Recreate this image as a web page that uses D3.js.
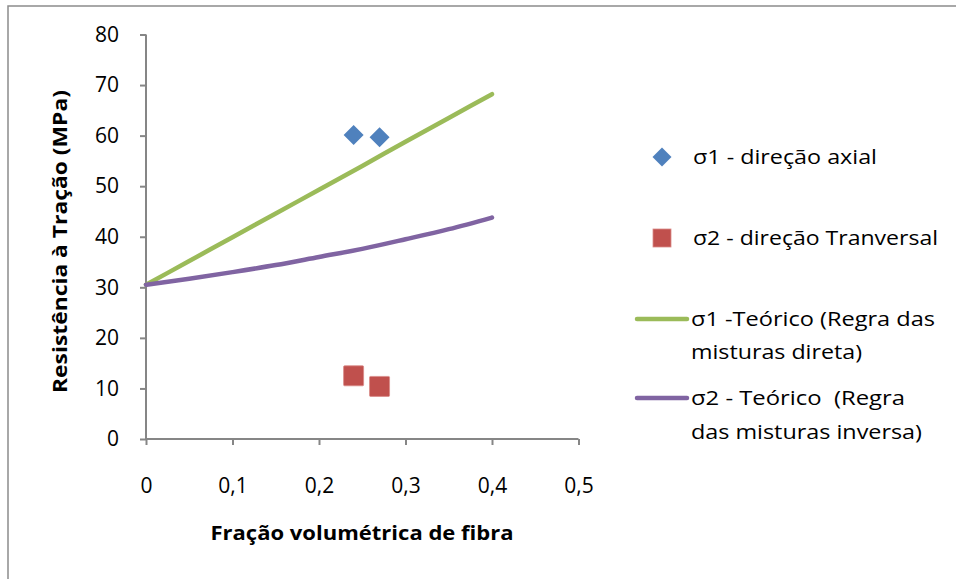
<!DOCTYPE html>
<html>
<head>
<meta charset="utf-8">
<script src="https://cdn.jsdelivr.net/npm/d3@7"></script>
<style>
  html, body { margin: 0; padding: 0; background: #fff; }
  svg { display: block; font-family: "Open Sans", Lato, sans-serif; }
</style>
</head>
<body>
<svg id="chart" width="956" height="579"></svg>
<script>
// ---- data ----
const xTicks = [0, 0.1, 0.2, 0.3, 0.4, 0.5];
const yTicks = [0, 10, 20, 30, 40, 50, 60, 70, 80];

const axialX = [0.24, 0.27];
const axialY = [60.1, 59.7];

const transvX = [0.24, 0.27];
const transvY = [12.5, 10.4];

const theoX = [0, 0.05, 0.1, 0.15, 0.2, 0.25, 0.3, 0.35, 0.4];
const directY = [30.5, 35.2, 39.9, 44.6, 49.3, 54.0, 58.8, 63.5, 68.2];
const inverseY = [30.5, 31.7, 33.0, 34.4, 36.0, 37.6, 39.5, 41.5, 43.8];

const seriesNames = [
  ["σ1 - direção axial"],
  ["σ2 - direção Tranversal"],
  ["σ1 -Teórico (Regra das", "misturas direta)"],
  ["σ2 - Teórico  (Regra", "das misturas inversa)"]
];
const colors = { axial: "#4F81BD", transv: "#C0504D", direct: "#9BBB59", inverse: "#8064A2" };

// ---- layout ----
const svg = d3.select("#chart");
const plot = { left: 146, right: 578.5, top: 34.5, bottom: 439 };
const axisColor = "#868686";

// frame
svg.append("rect")
  .attr("x", 8).attr("y", 6).attr("width", 1000).attr("height", 1000)
  .attr("fill", "none").attr("stroke", "#8c8c8c").attr("stroke-width", 1.5);

const x = d3.scaleLinear().domain([0, 0.5]).range([plot.left, plot.right]);
const y = d3.scaleLinear().domain([0, 80]).range([plot.bottom, plot.top]);

const fmt = d => d === 0 ? "0" : d3.format(".1f")(d).replace(".", ",");

// y axis
const yAxis = svg.append("g")
  .attr("transform", `translate(${plot.left},0)`)
  .call(d3.axisLeft(y).tickValues(yTicks).tickSize(6).tickPadding(21).tickFormat(d3.format("d")));
// x axis
const xAxis = svg.append("g")
  .attr("transform", `translate(0,${plot.bottom})`)
  .call(d3.axisBottom(x).tickValues(xTicks).tickSize(6).tickFormat(fmt));

[yAxis, xAxis].forEach(g => {
  g.select(".domain").attr("stroke", axisColor).attr("stroke-width", 2);
  g.selectAll(".tick line").attr("stroke", axisColor).attr("stroke-width", 2);
  g.selectAll(".tick text").attr("fill", "#000").style("font-size", "21px").style("font-family", "'Open Sans', sans-serif");
});
xAxis.selectAll(".tick text").attr("y", 46).attr("dy", "0.36em");
yAxis.select(".domain").attr("d", `M0,${plot.top}V${plot.bottom}`);
xAxis.select(".domain").attr("d", `M${plot.left},0H${plot.right}`);

// axis titles
svg.append("text")
  .attr("x", 362)
  .attr("y", 540)
  .attr("text-anchor", "middle")
  .attr("font-weight", "bold")
  .attr("font-size", 19)
  .attr("textLength", 303).attr("lengthAdjust", "spacingAndGlyphs")
  .text("Fração volumétrica de fibra");

svg.append("text")
  .attr("transform", "translate(67,241.5) rotate(-90)")
  .attr("text-anchor", "middle")
  .attr("font-weight", "bold")
  .attr("font-size", 19)
  .attr("textLength", 303).attr("lengthAdjust", "spacingAndGlyphs")
  .text("Resistência à Tração (MPa)");

// lines
const line = d3.line().x(d => x(d[0])).y(d => y(d[1])).curve(d3.curveMonotoneX);
svg.append("path")
  .datum(theoX.map((v, i) => [v, directY[i]]))
  .attr("d", line).attr("fill", "none")
  .attr("stroke", colors.direct).attr("stroke-width", 4.5).attr("stroke-linecap", "round");
svg.append("path")
  .datum(theoX.map((v, i) => [v, inverseY[i]]))
  .attr("d", line).attr("fill", "none")
  .attr("stroke", colors.inverse).attr("stroke-width", 4.5).attr("stroke-linecap", "round");

// markers
svg.append("g").selectAll("path")
  .data(axialX.map((v, i) => [v, axialY[i]]))
  .join("path")
  .attr("d", d3.symbol().type(d3.symbolSquare).size(200))
  .attr("transform", d => `translate(${x(d[0])},${y(d[1])}) rotate(45)`)
  .attr("fill", colors.axial);

svg.append("g").selectAll("rect")
  .data(transvX.map((v, i) => [v, transvY[i]]))
  .join("rect")
  .attr("x", d => x(d[0]) - 10).attr("y", d => y(d[1]) - 10)
  .attr("width", 20).attr("height", 20).attr("rx", 1)
  .attr("fill", colors.transv).attr("stroke", "#d98a88").attr("stroke-width", 0.8);

// legend
const lg = svg.append("g").style("font-size", "20px").attr("fill", "#000");
const legendLengths = [[184], [245], [244, 171], [214, 231]];
function legendText(lines, lens, x0, y0, gap) {
  lines.forEach((t, i) => lg.append("text")
    .attr("x", x0).attr("y", y0 + i * gap).attr("dy", "0.36em")
    .attr("textLength", lens[i]).attr("lengthAdjust", "spacingAndGlyphs")
    .attr("xml:space", "preserve").style("white-space", "pre")
    .text(t));
}
lg.append("path").attr("d", d3.symbol().type(d3.symbolSquare).size(180))
  .attr("transform", "translate(662,157) rotate(45)").attr("fill", colors.axial);
legendText(seriesNames[0], legendLengths[0], 693, 157, 0);

lg.append("rect").attr("x", 653).attr("y", 229).attr("width", 18).attr("height", 18)
  .attr("fill", colors.transv).attr("stroke", "#d98a88").attr("stroke-width", 0.8);
legendText(seriesNames[1], legendLengths[1], 693, 238, 0);

lg.append("line").attr("x1", 637).attr("x2", 687).attr("y1", 319).attr("y2", 319)
  .attr("stroke", colors.direct).attr("stroke-width", 4.5).attr("stroke-linecap", "round");
legendText(seriesNames[2], legendLengths[2], 691, 319, 33);

lg.append("line").attr("x1", 637).attr("x2", 687).attr("y1", 398).attr("y2", 398)
  .attr("stroke", colors.inverse).attr("stroke-width", 4.5).attr("stroke-linecap", "round");
legendText(seriesNames[3], legendLengths[3], 691, 398, 34);
</script>
</body>
</html>
